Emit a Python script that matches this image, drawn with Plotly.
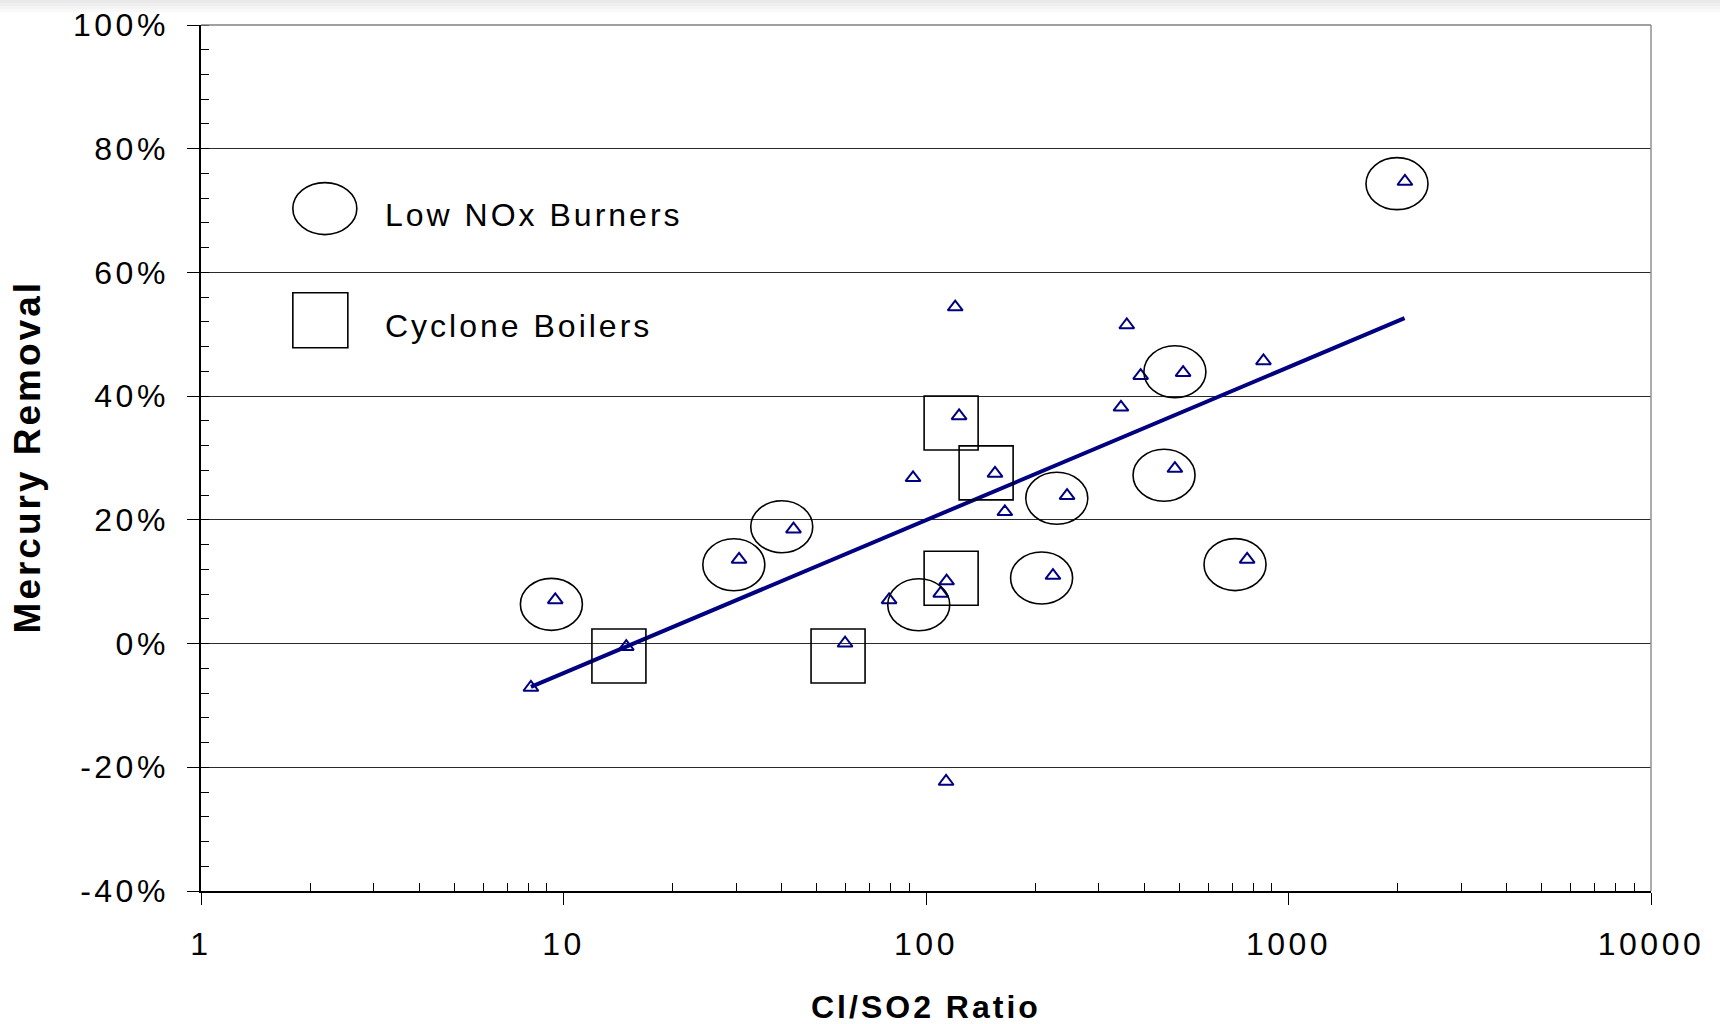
import math
import plotly.graph_objects as go

# ---- data ----
ratio = [8.13, 9.49, 14.9, 30.5, 43.1, 59.8, 79.1, 92.1, 109.8, 114, 113.6, 120.4, 123.4,
         155, 165, 224, 245, 345, 358, 391, 512, 486, 769, 853, 2095]
removal = [-7.1, 7.05, -0.5, 13.6, 18.5, 0.05, 7.05, 26.8, 8.1, 10.1, -22.3, 54.4, 36.8,
           27.5, 21.3, 11.0, 23.9, 38.2, 51.5, 43.3, 43.8, 28.3, 13.6, 45.7, 74.7]

trend_x = [8.13, 2090]
trend_y = [-7.0, 52.6]

# annotation outlines (centres in data units)
lownox_x = [9.26, 29.5, 40.0, 95.5, 208.4, 229.5, 486, 453.6, 712, 1992]
lownox_y = [6.34, 12.74, 18.88, 6.27, 10.6, 23.5, 43.95, 27.2, 12.77, 74.35]
cyclone_x = [14.22, 57.2, 117.3, 146.5, 117.3]
cyclone_y = [-2.0, -2.0, 35.66, 27.6, 10.57]

y_ticks = [-40, -20, 0, 20, 40, 60, 80, 100]
x_ticks = [1, 10, 100, 1000, 10000]
x_tick_labels = ["1", "10", "100", "1000", "10000"]

legend_labels = ["Low NOx Burners", "Cyclone Boilers"]
x_title = "Cl/SO2 Ratio"
y_title = "Mercury Removal"

FONT = "Liberation Sans, Arial, sans-serif"
NAVY = "#000080"
X_RANGE = [0, 4]  # log10 range of the x axis


def spaced(t, px):
    return f'<span style="letter-spacing:{px}px">{t}</span>'


def xpaper(v):
    # position on the log x axis expressed as a fraction of the plot width
    return (math.log10(v) - X_RANGE[0]) / (X_RANGE[1] - X_RANGE[0])


fig = go.Figure()
fig.add_trace(go.Scatter(x=trend_x, y=trend_y, mode="lines",
                         line=dict(color=NAVY, width=4), hoverinfo="skip",
                         showlegend=False))
fig.add_trace(go.Scatter(x=ratio, y=removal, mode="markers",
                         marker=dict(symbol="triangle-up-open", size=13, color=NAVY,
                                     line=dict(color=NAVY, width=2)),
                         showlegend=False))

shapes = []
for cx, cy in zip(lownox_x, lownox_y):
    shapes.append(dict(type="circle", xref="paper", yref="y", xsizemode="pixel", ysizemode="pixel",
                       xanchor=xpaper(cx), yanchor=cy, x0=-31, x1=31, y0=-26, y1=26,
                       line=dict(color="black", width=1.6)))
for cx, cy in zip(cyclone_x, cyclone_y):
    shapes.append(dict(type="rect", xref="paper", yref="y", xsizemode="pixel", ysizemode="pixel",
                       xanchor=xpaper(cx), yanchor=cy, x0=-27, x1=27, y0=-27, y1=27,
                       line=dict(color="black", width=1.6)))

# legend symbols (paper coordinates)
shapes.append(dict(type="circle", xref="paper", yref="paper", xsizemode="pixel", ysizemode="pixel",
                   xanchor=0.0854, yanchor=0.788, x0=-32, x1=32, y0=-26, y1=26,
                   line=dict(color="black", width=1.6)))
shapes.append(dict(type="rect", xref="paper", yref="paper", xsizemode="pixel", ysizemode="pixel",
                   xanchor=0.0823, yanchor=0.659, x0=-27.5, x1=27.5, y0=-27.5, y1=27.5,
                   line=dict(color="black", width=1.6)))

# frame: top and right borders in grey
shapes.append(dict(type="line", xref="paper", yref="paper", x0=0, x1=1, y0=1, y1=1,
                   line=dict(color="#808080", width=1.5)))
shapes.append(dict(type="line", xref="paper", yref="paper", x0=1, x1=1, y0=0, y1=1,
                   line=dict(color="#909090", width=1.5)))

# faint viewer shadow along the top edge of the page
for i, c in enumerate(["#e9e9e9", "#efefef", "#f4f4f4", "#f9f9f9"]):
    shapes.append(dict(type="rect", xref="paper", yref="paper", layer="below",
                       x0=-0.2, x1=1.1, y0=1.0289 - i * 0.0035, y1=1.0289 - (i + 1) * 0.0035,
                       line=dict(width=0), fillcolor=c))

annotations = [
    dict(text=spaced(legend_labels[0], 3), xref="paper", yref="paper", x=0.1257, y=0.7806,
         xanchor="left", yanchor="middle", showarrow=False,
         font=dict(family=FONT, size=32, color="black")),
    dict(text=spaced(legend_labels[1], 3), xref="paper", yref="paper", x=0.1257, y=0.6524,
         xanchor="left", yanchor="middle", showarrow=False,
         font=dict(family=FONT, size=32, color="black")),
    dict(text="<b>" + spaced(x_title, 3) + "</b>", xref="paper", yref="paper", x=0.5, y=-0.134,
         xanchor="center", yanchor="middle", showarrow=False,
         font=dict(family=FONT, size=32, color="black")),
    dict(text="<b>" + spaced(y_title, 3) + "</b>", xref="paper", yref="paper", x=-0.1198, y=0.501,
         xanchor="center", yanchor="middle", showarrow=False, textangle=-90,
         font=dict(family=FONT, size=37, color="black")),
]

minor_x = [k * 10 ** d for d in range(4) for k in range(2, 10)]

fig.update_layout(
    width=1720, height=1024,
    margin=dict(l=200.7, r=69, t=25, b=133, autoexpand=False),
    paper_bgcolor="white", plot_bgcolor="white",
    font=dict(family=FONT, size=32, color="black"),
    shapes=shapes, annotations=annotations,
    xaxis=dict(type="log", range=X_RANGE, tickmode="array", tickvals=x_ticks,
               ticktext=[spaced(t, 3.5) for t in x_tick_labels],
               ticks="outside", ticklen=12, tickwidth=1.2, tickcolor="black",
               showline=True, linecolor="black", linewidth=1.5, automargin=False,
               showgrid=False, zeroline=False, ticklabelstandoff=12,
               tickfont=dict(family=FONT, size=32, color="black"),
               minor=dict(tickmode="array", tickvals=minor_x, ticks="inside",
                          ticklen=8, tickwidth=1.2, tickcolor="black", showgrid=False)),
    yaxis=dict(range=[-40, 100], tickmode="array", tickvals=y_ticks,
               ticktext=[spaced(f"{v}%", 3.5) for v in y_ticks],
               ticks="outside", ticklen=12, tickwidth=1.2, tickcolor="black",
               showline=True, linecolor="black", linewidth=1.5, automargin=False,
               showgrid=True, gridcolor="#2a2a2a", gridwidth=1, zeroline=False,
               ticklabelstandoff=12,
               tickfont=dict(family=FONT, size=32, color="black"),
               minor=dict(dtick=4, tick0=0, ticks="inside", ticklen=8, tickwidth=1.2,
                          tickcolor="black", showgrid=False)),
)

fig.write_html("out.html")
